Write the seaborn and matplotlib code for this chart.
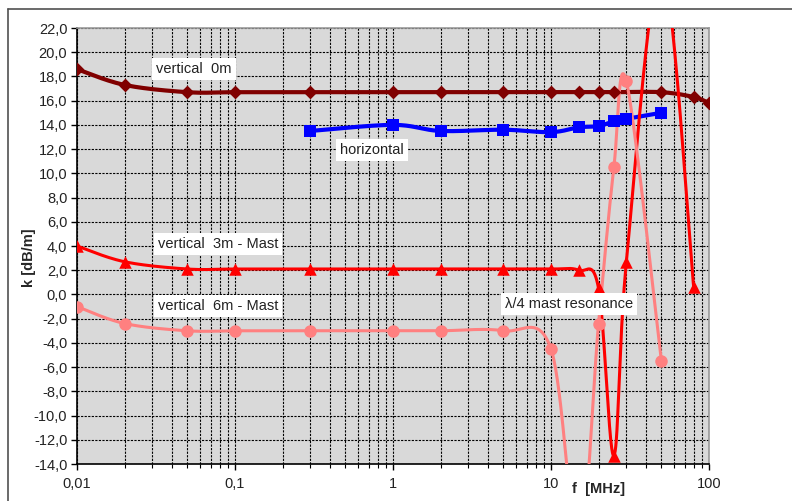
import numpy as np
import pandas as pd
import seaborn as sns
import matplotlib
matplotlib.use("Agg")
import matplotlib.pyplot as plt
from matplotlib.lines import Line2D
from matplotlib.ticker import FixedLocator, FuncFormatter, LogLocator, NullFormatter

# Frequencies in MHz and field factor k in dB/m for each antenna setup
f_v0 = [0.01, 0.02, 0.05, 0.1, 0.3, 1, 2, 5, 10, 15, 20, 25, 50, 80, 100]
k_v0 = [18.6, 17.3, 16.7, 16.7, 16.7, 16.7, 16.7, 16.7, 16.7, 16.7, 16.7, 16.7, 16.7, 16.3, 15.8]

f_hor = [0.3, 1, 2, 5, 10, 15, 20, 25, 30, 50]
k_hor = [13.5, 14.0, 13.5, 13.6, 13.4, 13.8, 13.9, 14.3, 14.5, 15.0]

f_v3 = [0.01, 0.02, 0.05, 0.1, 0.3, 1, 2, 5, 10, 15, 20, 25, 30, 50, 80]
k_v3 = [4.0, 2.7, 2.1, 2.1, 2.1, 2.1, 2.1, 2.1, 2.1, 2.0, 0.5, -13.3, 2.7, 27.0, 0.6]

f_v6 = [0.01, 0.02, 0.05, 0.1, 0.3, 1, 2, 5, 10, 15, 20, 25, 30, 50]
k_v6 = [-1.0, -2.4, -3.0, -3.0, -3.0, -3.0, -3.0, -3.0, -4.5, -21.0, -2.4, 10.5, 17.6, -5.5]

y_ticks = [22, 20, 18, 16, 14, 12, 10, 8, 6, 4, 2, 0, -2, -4, -6, -8, -10, -12, -14]
x_ticks = [0.01, 0.1, 1, 10, 100]
x_tick_labels = ["0,01", "0,1", "1", "10", "100"]

W, H = 792, 501
sns.set_style("white")
plt.rcParams["font.family"] = ["Liberation Sans", "DejaVu Sans"]

fig = plt.figure(figsize=(W / 100, H / 100), dpi=100)
ax = fig.add_axes([77 / W, 1 - 464 / H, (709 - 77) / W, (464 - 28) / H])
ax.set_facecolor("#d9d9d9")

# Pixel scale of one decade and one dB, used for chart-style smoothing
SX, SY = 158.0, 12.11


def smooth(f, k, n=40):
    """Catmull-Rom spline through the points, computed in screen-like units."""
    P = np.column_stack([np.log10(f) * SX, np.asarray(k, float) * SY])
    P = np.vstack([P[0], P, P[-1]])
    out = []
    t = np.linspace(0, 1, n)[:, None]
    for i in range(1, len(P) - 2):
        p0, p1, p2, p3 = P[i - 1], P[i], P[i + 1], P[i + 2]
        c1 = p1 + (p2 - p0) / 6
        c2 = p2 - (p3 - p1) / 6
        seg = ((1 - t) ** 3) * p1 + 3 * ((1 - t) ** 2) * t * c1 + 3 * (1 - t) * t ** 2 * c2 + t ** 3 * p2
        out.append(seg if i == 1 else seg[1:])
    C = np.vstack(out)
    return 10 ** (C[:, 0] / SX), C[:, 1] / SY


series = [
    (f_v0, k_v0, "#800000", "D", 3.0, 7),
    (f_hor, k_hor, "#0000ff", "s", 3.0, 9),
    (f_v3, k_v3, "#ff0000", "^", 2.2, 9),
    (f_v6, k_v6, "#ff8080", "o", 2.2, 9),
]

for f, k, col, mk, lw, ms in series:
    xs, ys = smooth(f, k)
    curve = pd.DataFrame({"f": xs, "k": ys})
    sns.lineplot(data=curve, x="f", y="k", ax=ax, color=col, lw=lw, sort=False,
                 estimator=None, zorder=3)
    pts = pd.DataFrame({"f": f, "k": k})
    sns.scatterplot(data=pts, x="f", y="k", ax=ax, color=col, marker=mk, s=ms ** 2,
                    edgecolor=col, linewidth=0, zorder=4)

ax.set_xscale("log")
ax.set_xlim(0.01, 100)
ax.set_ylim(-14, 22)

ax.xaxis.set_major_locator(FixedLocator(x_ticks))
ax.xaxis.set_major_formatter(FuncFormatter(lambda v, p: x_tick_labels[x_ticks.index(v)] if v in x_ticks else ""))
ax.xaxis.set_minor_locator(LogLocator(base=10, subs=np.arange(2, 10)))
ax.xaxis.set_minor_formatter(NullFormatter())
ax.yaxis.set_major_locator(FixedLocator(y_ticks))
ax.yaxis.set_major_formatter(FuncFormatter(lambda v, p: f"{v:.1f}".replace(".", ",")))

grid_kw = dict(color="black", linestyle=(0, (2, 1.2)), linewidth=0.8)
ax.grid(True, which="major", axis="both", **grid_kw)
ax.grid(True, which="minor", axis="x", **grid_kw)
ax.set_axisbelow(True)

ax.tick_params(axis="both", which="major", direction="out", length=4, width=1,
               color="black", labelsize=10.5, labelcolor="#222222", pad=3,
               bottom=True, left=True)
ax.tick_params(axis="x", which="minor", direction="out", length=3, width=0.8,
               color="black", bottom=True)
ax.tick_params(axis="x", which="major", pad=5)

for side in ("left", "bottom"):
    ax.spines[side].set_color("black")
    ax.spines[side].set_linewidth(1.2)
for side in ("top", "right"):
    ax.spines[side].set_color("#999999")
    ax.spines[side].set_linewidth(1.2)

ax.set_xlabel("")
ax.set_ylabel("")
fig.text(572 / W, 1 - 489 / H, "f  [MHz]", fontsize=10.5, fontweight="bold",
         ha="left", va="center")
fig.text(29 / W, 1 - 258 / H, "k [dB/m]", fontsize=10.5, fontweight="bold",
         ha="center", va="center", rotation=90)

box = dict(facecolor="white", edgecolor="none", pad=3)
labels = [
    (194, 69, "vertical  0m"),
    (372, 150, "horizontal"),
    (218, 244, "vertical  3m - Mast"),
    (218, 306, "vertical  6m - Mast"),
    (569, 304, "λ/4 mast resonance"),
]
for x, y, s in labels:
    fig.text(x / W, 1 - y / H, s, fontsize=10.5, color="#222222",
             ha="center", va="center", bbox=box, zorder=10)

# Outer frame around the chart area
fig.add_artist(Line2D([8 / W, 1], [1 - 9 / H, 1 - 9 / H], color="#505050", lw=1.2))
fig.add_artist(Line2D([8 / W, 8 / W], [0, 1 - 9 / H], color="#505050", lw=1.2))

fig.savefig("out.png", dpi=100)
